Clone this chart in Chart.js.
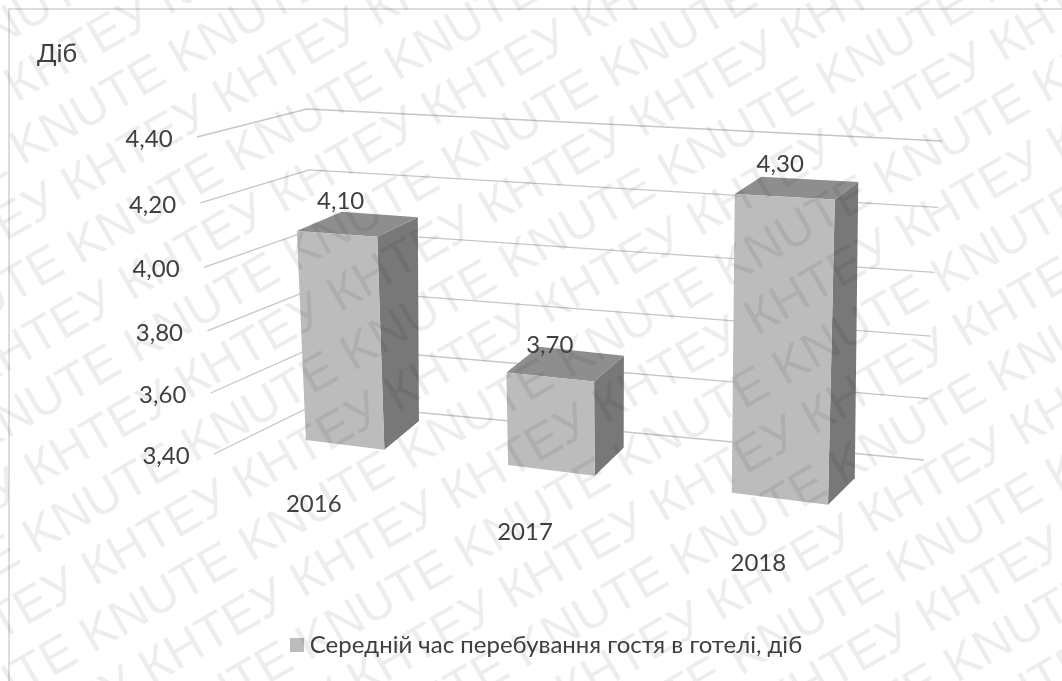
<!DOCTYPE html>
<html lang="uk">
<head>
<meta charset="utf-8">
<title>Середній час перебування гостя в готелі</title>
<script src="https://cdn.jsdelivr.net/npm/chart.js@4/dist/chart.umd.min.js"></script>
<style>
  html, body { margin: 0; padding: 0; background: #fff; }
  canvas { display: block; }
</style>
</head>
<body>
<canvas id="stayChart" width="1062" height="681"></canvas>
<script>
const years = ['2016', '2017', '2018'];
const stayDays = [4.10, 3.70, 4.30];
const seriesName = 'Середній час перебування гостя в готелі, діб';
const unitLabel = 'Діб';
const stampWords = ['KNUTE', 'КНТЕУ'];

const TEXT = '#404040';
const FONT = 'Lato, "Open Sans", sans-serif';
const BAR_FRONT = '#bcbcbc';

// Unit square -> quad homography. Corners: (0,0), (1,0), (1,1), (0,1)
function makePlane(p0, p1, p2, p3) {
    const dx1 = p1[0] - p2[0], dx2 = p3[0] - p2[0];
    const dy1 = p1[1] - p2[1], dy2 = p3[1] - p2[1];
    const sx = p0[0] - p1[0] + p2[0] - p3[0];
    const sy = p0[1] - p1[1] + p2[1] - p3[1];
    const den = dx1 * dy2 - dx2 * dy1;
    const g = (sx * dy2 - dx2 * sy) / den;
    const h = (dx1 * sy - sx * dy1) / den;
    const a = p1[0] - p0[0] + g * p1[0], b = p3[0] - p0[0] + h * p3[0];
    const d = p1[1] - p0[1] + g * p1[1], e = p3[1] - p0[1] + h * p3[1];
    return function (u, v) {
        const w = g * u + h * v + 1;
        return [(a * u + b * v + p0[0]) / w, (d * u + e * v + p0[1]) / w];
    };
}

// fake 3D box: front and back of the bars, plus the two walls
const barFront = makePlane([249, 433], [903, 514], [914, 168], [234, 135]);
const barBack = makePlane([289, 404], [930, 488], [935, 152], [286, 123]);
const backWall = makePlane([318, 403], [924, 460], [942, 141], [307, 109]);
const sideWall = makePlane([214, 454], [318, 403], [307, 109], [197, 137]);

function poly(ctx, points, fill) {
    ctx.beginPath();
    points.forEach(function (p, i) {
        if (i === 0) ctx.moveTo(p[0], p[1]); else ctx.lineTo(p[0], p[1]);
    });
    ctx.closePath();
    ctx.fillStyle = fill;
    ctx.fill();
}

// legend swatch as an image, so the label can sit close to it
function makeSwatch() {
    const c = document.createElement('canvas');
    c.width = 14;
    c.height = 14;
    const g = c.getContext('2d');
    g.fillStyle = BAR_FRONT;
    g.fillRect(0, 0, 14, 14);
    return c;
}

const box3d = {
    id: 'box3d',
    beforeDraw(chart) {
        const ctx = chart.ctx;
        ctx.save();
        ctx.strokeStyle = '#d2d2d2';
        ctx.lineWidth = 1.5;
        ctx.beginPath();
        ctx.moveTo(9, 681);
        ctx.lineTo(9, 9);
        ctx.lineTo(1062, 9);
        ctx.stroke();
        ctx.restore();
    },
    // returning false skips the flat bars, the boxes below replace them
    beforeDatasetsDraw(chart) {
        const ctx = chart.ctx;
        const xs = chart.scales.x, ys = chart.scales.y;
        const normV = function (val) { return (ys.bottom - ys.getPixelForValue(val)) / (ys.bottom - ys.top); };
        const normU = function (px) { return (px - xs.left) / (xs.right - xs.left); };

        ctx.save();
        ctx.strokeStyle = '#c6c6c6';
        ctx.lineWidth = 1.3;
        ctx.font = '24px ' + FONT;
        ctx.fillStyle = TEXT;
        ctx.textAlign = 'center';
        ctx.textBaseline = 'middle';
        ys.ticks.forEach(function (tick) {
            const v = normV(tick.value);
            const a = sideWall(0, v), b = sideWall(1, v), c = backWall(1, v);
            ctx.beginPath();
            ctx.moveTo(a[0], a[1]);
            ctx.lineTo(b[0], b[1]);
            ctx.lineTo(c[0], c[1]);
            ctx.stroke();
            ctx.fillText(tick.value.toFixed(2).replace('.', ','), a[0] - 48, a[1] + 2);
        });

        chart.getDatasetMeta(0).data.forEach(function (bar, i) {
            const u0 = normU(bar.x - bar.width / 2), u1 = normU(bar.x + bar.width / 2);
            const top = normV(stayDays[i]);
            const fbl = barFront(u0, 0), fbr = barFront(u1, 0), ftr = barFront(u1, top), ftl = barFront(u0, top);
            const bbr = barBack(u1, 0), btr = barBack(u1, top), btl = barBack(u0, top);
            poly(ctx, [fbr, bbr, btr, ftr], '#787878');
            poly(ctx, [ftl, ftr, btr, btl], '#8e8e8e');
            poly(ctx, [fbl, fbr, ftr, ftl], BAR_FRONT);
        });

        chart.getDatasetMeta(0).data.forEach(function (bar, i) {
            const uc = normU(bar.x);
            const head = barFront(uc, normV(stayDays[i]));
            const foot = barFront(uc, 0);
            const skew = uc - 0.5;
            ctx.fillStyle = TEXT;
            ctx.fillText(stayDays[i].toFixed(2).replace('.', ','), head[0] - skew * 12, head[1] - 32);
            ctx.fillText(xs.getLabelForValue(i), foot[0] - 26 + skew * 15, foot[1] + 62 + skew * 8);
        });
        ctx.restore();
        return false;
    },
    // stamp goes over everything, one word per row
    afterDraw(chart) {
        const ctx = chart.ctx;
        ctx.save();
        ctx.font = '50px "Liberation Sans", sans-serif';
        ctx.fillStyle = 'rgba(0,0,0,0.07)';
        ctx.textAlign = 'left';
        ctx.textBaseline = 'alphabetic';
        ctx.rotate(-Math.PI / 6);
        for (let k = -10; k < 12; k++) {
            const odd = Math.abs(k) % 2 === 1;
            const word = (odd ? stampWords[1] : stampWords[0]) + ' ';
            const period = ctx.measureText(word).width;
            const start = odd ? -212 : -247;
            ctx.fillText(word.repeat(14), start - period * 6, 480 + 57.2 * k + 18);
        }
        ctx.restore();
    },
};

new Chart(document.getElementById('stayChart'), {
    type: 'bar',
    data: {
        labels: years,
        datasets: [{
            label: seriesName,
            data: stayDays,
            backgroundColor: BAR_FRONT,
            barPercentage: 0.4,
            categoryPercentage: 1,
        }],
    },
    options: {
        responsive: false,
        animation: false,
        layout: { padding: { left: 37, right: 0, top: 39, bottom: 14 } },
        plugins: {
            tooltip: { enabled: false },
            title: {
                display: true,
                text: unitLabel,
                align: 'start',
                color: TEXT,
                font: { family: FONT, size: 25, weight: 'normal' },
                padding: 0,
            },
            legend: {
                position: 'bottom',
                labels: {
                    usePointStyle: true,
                    pointStyle: makeSwatch(),
                    pointStyleWidth: 1,
                    color: TEXT,
                    padding: 6,
                    font: { family: FONT, size: 24 },
                },
            },
        },
        scales: {
            x: { display: false },
            y: { display: false, min: 3.4, max: 4.4, ticks: { stepSize: 0.2 } },
        },
    },
    plugins: [box3d],
});
</script>
</body>
</html>
